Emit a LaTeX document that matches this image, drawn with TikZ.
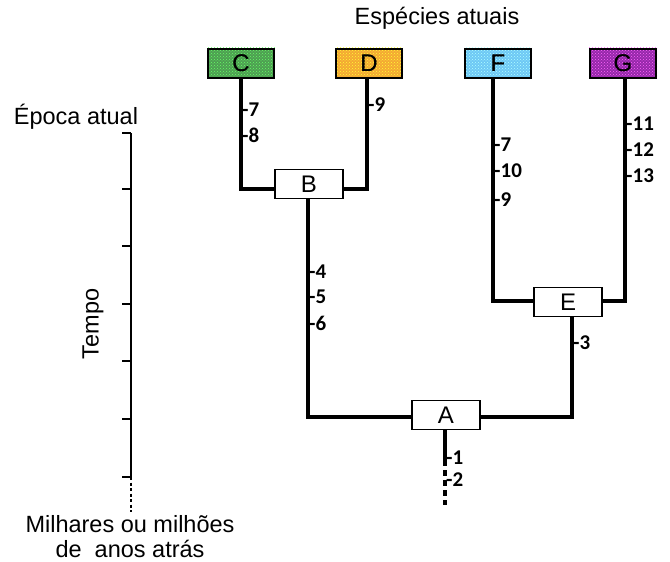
\documentclass[tikz,border=0pt]{standalone}
\usepackage{fontspec}
\setmainfont{Liberation Sans}
\newfontfamily\numfont{Carlito}
\usetikzlibrary{patterns}
\definecolor{cgreen}{RGB}{78,158,82}
\definecolor{corange}{RGB}{244,168,52}
\definecolor{cblue}{RGB}{110,200,245}
\definecolor{cpurple}{RGB}{150,40,170}
\tikzset{
  branch/.style={line width=3.2pt, black},
  spbox/.style={draw=black, line width=2pt, minimum width=66pt, minimum height=29pt, inner sep=0pt, font=\fontsize{24}{26}\selectfont},
  nodebox/.style={draw=black, line width=1.8pt, fill=white, minimum width=68pt, minimum height=29pt, inner sep=0pt, font=\fontsize{24}{26}\selectfont},
  lbl/.style={anchor=west, inner sep=0pt, font=\numfont\bfseries\fontsize{21}{23}\selectfont},
  txt/.style={inner sep=0pt, font=\fontsize{23.5}{26}\selectfont, align=center},
  axis/.style={line width=1.6pt, black},
}
\begin{document}
\begin{tikzpicture}[x=1pt,y=-1pt]
\useasboundingbox (0,0) rectangle (670,562);
% title
\node[txt] (title) at (437,18) {Espécies atuais};
% species boxes
\node[spbox, fill=cgreen] (C) at (241,63) {C};
\node[spbox, fill=corange] (D) at (369,63) {D};
\node[spbox, fill=cblue] (F) at (498,63) {F};
\node[spbox, fill=cpurple] (G) at (623,63) {G};
\foreach \n/\c in {C/green!60!white, D/yellow!80!white, F/cyan!30!white, G/magenta!60!white}{
  \fill[pattern=crosshatch dots, pattern color=\c] (\n.south west) rectangle (\n.north east);
}
\node[spbox] at (C) {C};
\node[spbox] at (D) {D};
\node[spbox] at (F) {F};
\node[spbox] at (G) {G};
% ancestor boxes
\node[nodebox] (B) at (309,184) {B};
\node[nodebox] (E) at (568,302) {E};
\node[nodebox] (A) at (446,415) {A};
% coordinates
\coordinate (cB) at (241,189);
\coordinate (dB) at (367,189);
\coordinate (fE) at (493,301);
\coordinate (gE) at (625,301);
\coordinate (bA) at (308,417);
\coordinate (eA) at (572,417);
\coordinate (aS) at (445,460);
\coordinate (aD) at (445,505);
% branches
\draw[branch] (241,78) -- (cB) -- (B.west |- cB);
\draw[branch] (367,78) -- (dB) -- (B.east |- dB);
\draw[branch] (493,78) -- (fE) -- (E.west |- fE);
\draw[branch] (625,78) -- (gE) -- (E.east |- gE);
\draw[branch] (B.south -| bA) -- (bA) -- (A.west |- bA);
\draw[branch] (E.south -| eA) -- (eA) -- (A.east |- eA);
\draw[branch] (A.south -| aS) -- (aS);
\draw[branch, dash pattern=on 6pt off 4pt] (aS) -- (aD);
% labels
\node[lbl] (l7a) at (242,110) {-7};
\node[lbl] (l8) at (242,135) {-8};
\node[lbl] (l9a) at (368,105) {-9};
\node[lbl] (l7b) at (494,145) {-7};
\node[lbl] (l10) at (494,171) {-10};
\node[lbl] (l9b) at (494,200) {-9};
\node[lbl] (l11) at (626,124) {-11};
\node[lbl] (l12) at (626,150) {-12};
\node[lbl] (l13) at (626,176) {-13};
\node[lbl] (l4) at (309,272) {-4};
\node[lbl] (l5) at (309,297) {-5};
\node[lbl] (l6) at (309,323) {-6};
\node[lbl] (l3) at (573,343) {-3};
\node[lbl] (l1) at (446,458) {-1};
\node[lbl] (l2) at (446,480) {-2};
% time axis
\coordinate (axT) at (131,133);
\coordinate (axB) at (131,477);
\coordinate (axD) at (131,512);
\draw[axis] (axT) -- (axB);
\draw[axis, dash pattern=on 3pt off 2.5pt] (axB) -- (axD);
\foreach \y in {133,189,246,304,361,419,477}{
  \draw[axis] (122,\y) -- (131,\y);
}
\node[txt] (epoca) at (76,117) {Época atual};
\node[txt, rotate=90] (tempo) at (93,324) {Tempo};
\node[txt] (milhares) at (130,524) {Milhares ou milhões};
\node[txt] (anos) at (130,549) {de\ \ anos atrás};
\end{tikzpicture}
\end{document}
